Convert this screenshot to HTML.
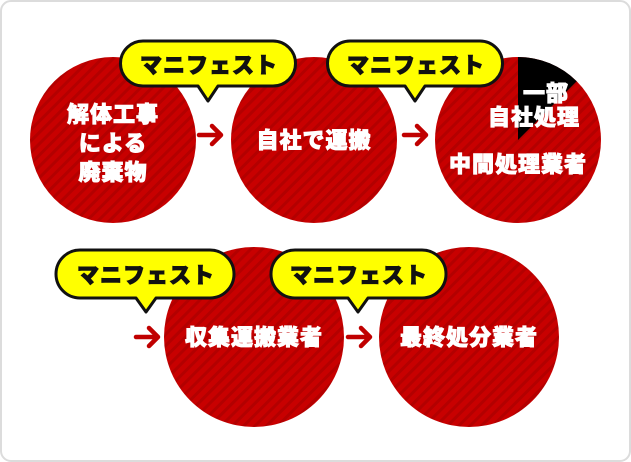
<!DOCTYPE html>
<html><head><meta charset="utf-8"><style>
html,body{margin:0;padding:0;background:#fff}
svg{display:block}
text{font-family:"Liberation Sans","Noto Sans CJK JP",sans-serif;font-weight:900}
</style></head><body>
<svg width="631" height="462" viewBox="0 0 631 462" xmlns="http://www.w3.org/2000/svg">
<defs>
<pattern id="st" width="8" height="8" patternUnits="userSpaceOnUse" patternTransform="rotate(45)">
<rect width="8" height="8" fill="#c80000"/>
<rect width="3" height="8" fill="#b30000"/>
</pattern>
<g id="arr"><path d="M0 0 H22 M13 -9 L22 0 L13 9" fill="none" stroke="#c00000" stroke-width="4.5" stroke-linecap="round" stroke-linejoin="round"/></g>
</defs>
<rect x="1" y="1" width="629" height="460" rx="10" fill="#fff" stroke="#dcdcdc" stroke-width="2"/>

<circle cx="113" cy="140" r="83" fill="url(#st)"/>
<circle cx="314" cy="140" r="83" fill="url(#st)"/>
<circle cx="518" cy="140" r="83" fill="url(#st)"/>
<path d="M518 140 L518 57 A83 83 0 0 1 576.7 81.3 Z" fill="#000"/>
<circle cx="254" cy="337" r="90" fill="url(#st)"/>
<circle cx="469" cy="337" r="90" fill="url(#st)"/>

<g fill="#fff" stroke="#fff" stroke-width="0.9" font-size="22" text-anchor="middle" letter-spacing="1">
<text x="113" y="122">解体工事</text>
<text x="113" y="151">による</text>
<text x="113" y="180">廃棄物</text>
<text x="314" y="148">自社で運搬</text>
<text x="546" y="101">一部</text>
<text x="534" y="125">自社処理</text>
<text x="518" y="172">中間処理業者</text>
<text x="254" y="345">収集運搬業者</text>
<text x="469" y="345">最終処分業者</text>
</g>

<use href="#arr" x="199" y="135"/>
<use href="#arr" x="404" y="135"/>
<use href="#arr" x="136" y="337"/>
<use href="#arr" x="348" y="337"/>

<g stroke="#111" stroke-width="3" fill="#ffff00" stroke-linejoin="round">
<path d="M143 41 H273 A22 22 0 0 1 273 86 H218 L208 101 L198 86 H143 A22 22 0 0 1 143 41 Z"/>
<path d="M350 41 H480 A22 22 0 0 1 480 86 H425 L415 101 L405 86 H350 A22 22 0 0 1 350 41 Z"/>
<path d="M80 250 H210 A23 23 0 0 1 210 298 H156 L146 312 L136 298 H80 A23 23 0 0 1 80 250 Z"/>
<path d="M295 250 H422 A23 23 0 0 1 422 298 H368 L358 312 L348 298 H295 A23 23 0 0 1 295 250 Z"/>
</g>
<g fill="#111" stroke="#111" stroke-width="0.9" font-size="22" text-anchor="middle" letter-spacing="1">
<text x="209" y="73">マニフェスト</text>
<text x="416" y="73">マニフェスト</text>
<text x="146" y="283">マニフェスト</text>
<text x="359" y="283">マニフェスト</text>
</g>
</svg>
</body></html>
